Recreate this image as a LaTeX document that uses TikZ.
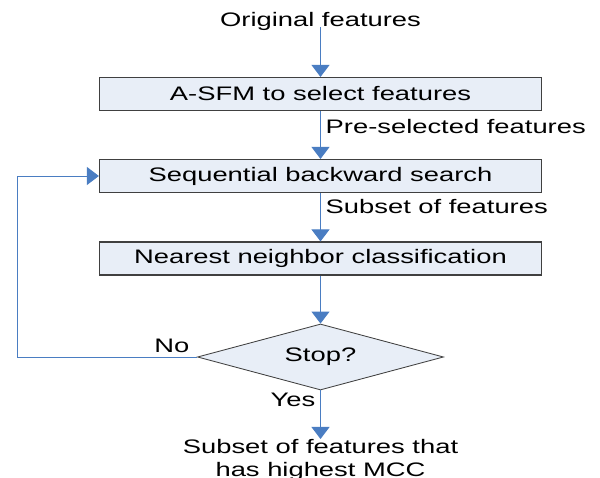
\documentclass[tikz,border=0pt]{standalone}
\usepackage{fontspec}
\setmainfont{Liberation Sans}[FakeStretch=1.4]
\usetikzlibrary{shapes.geometric,arrows.meta}
\definecolor{flowblue}{RGB}{74,125,194}
\definecolor{boxfill}{RGB}{232,238,247}
\definecolor{boxline}{RGB}{64,64,64}
\begin{document}
\begin{tikzpicture}[x=0.025cm, y=-0.025cm,
        font=\fontsize{13.9}{16.4}\selectfont,
        procbox/.style={draw=boxline, fill=boxfill, line width=0.8pt,
            minimum width=11.05cm, minimum height=0.825cm, inner sep=0pt},
        decision/.style={diamond, aspect=3.7, draw=boxline, fill=boxfill,
            line width=0.6pt, minimum width=6.15cm, minimum height=1.65cm, inner sep=0pt},
        flow/.style={draw=flowblue, line width=0.7pt,
            -{Triangle[length=0.3cm, width=0.45cm]}}]
    \useasboundingbox (0,0) rectangle (600,478);
    % input and output texts
    \node[anchor=base, inner sep=0pt] (orig) at (320.5,27) {Original features};
    \node[anchor=north, inner sep=0pt, align=center] (result) at (320.5,439)
        {Subset of features that\\has highest MCC};
    % processing steps
    \node[procbox] (asfm) at (320.5,94)   {A-SFM to select features};
    \node[procbox] (sbs)  at (320.5,176)  {Sequential backward search};
    \node[procbox] (nnc)  at (320.5,258.5) {Nearest neighbor classification};
    \node[decision] (stop) at (320.5,357) {Stop?};
    \coordinate (loopturn) at (17,357);
    % connectors
    \draw[flow] (orig.base) -- (asfm);
    \draw[flow] (asfm) -- node[right, pos=0.33] {Pre-selected features} (sbs);
    \draw[flow] (sbs) -- node[right, pos=0.27] {Subset of features} (nnc);
    \draw[flow] (nnc) -- (stop);
    \draw[flow] (stop) -- node[left, pos=0.19] {Yes} (result);
    \draw[flow] (stop.west) -- node[above, pos=0.14, inner sep=2.8pt] {No} (loopturn)
        |- (sbs.west);
\end{tikzpicture}
\end{document}
